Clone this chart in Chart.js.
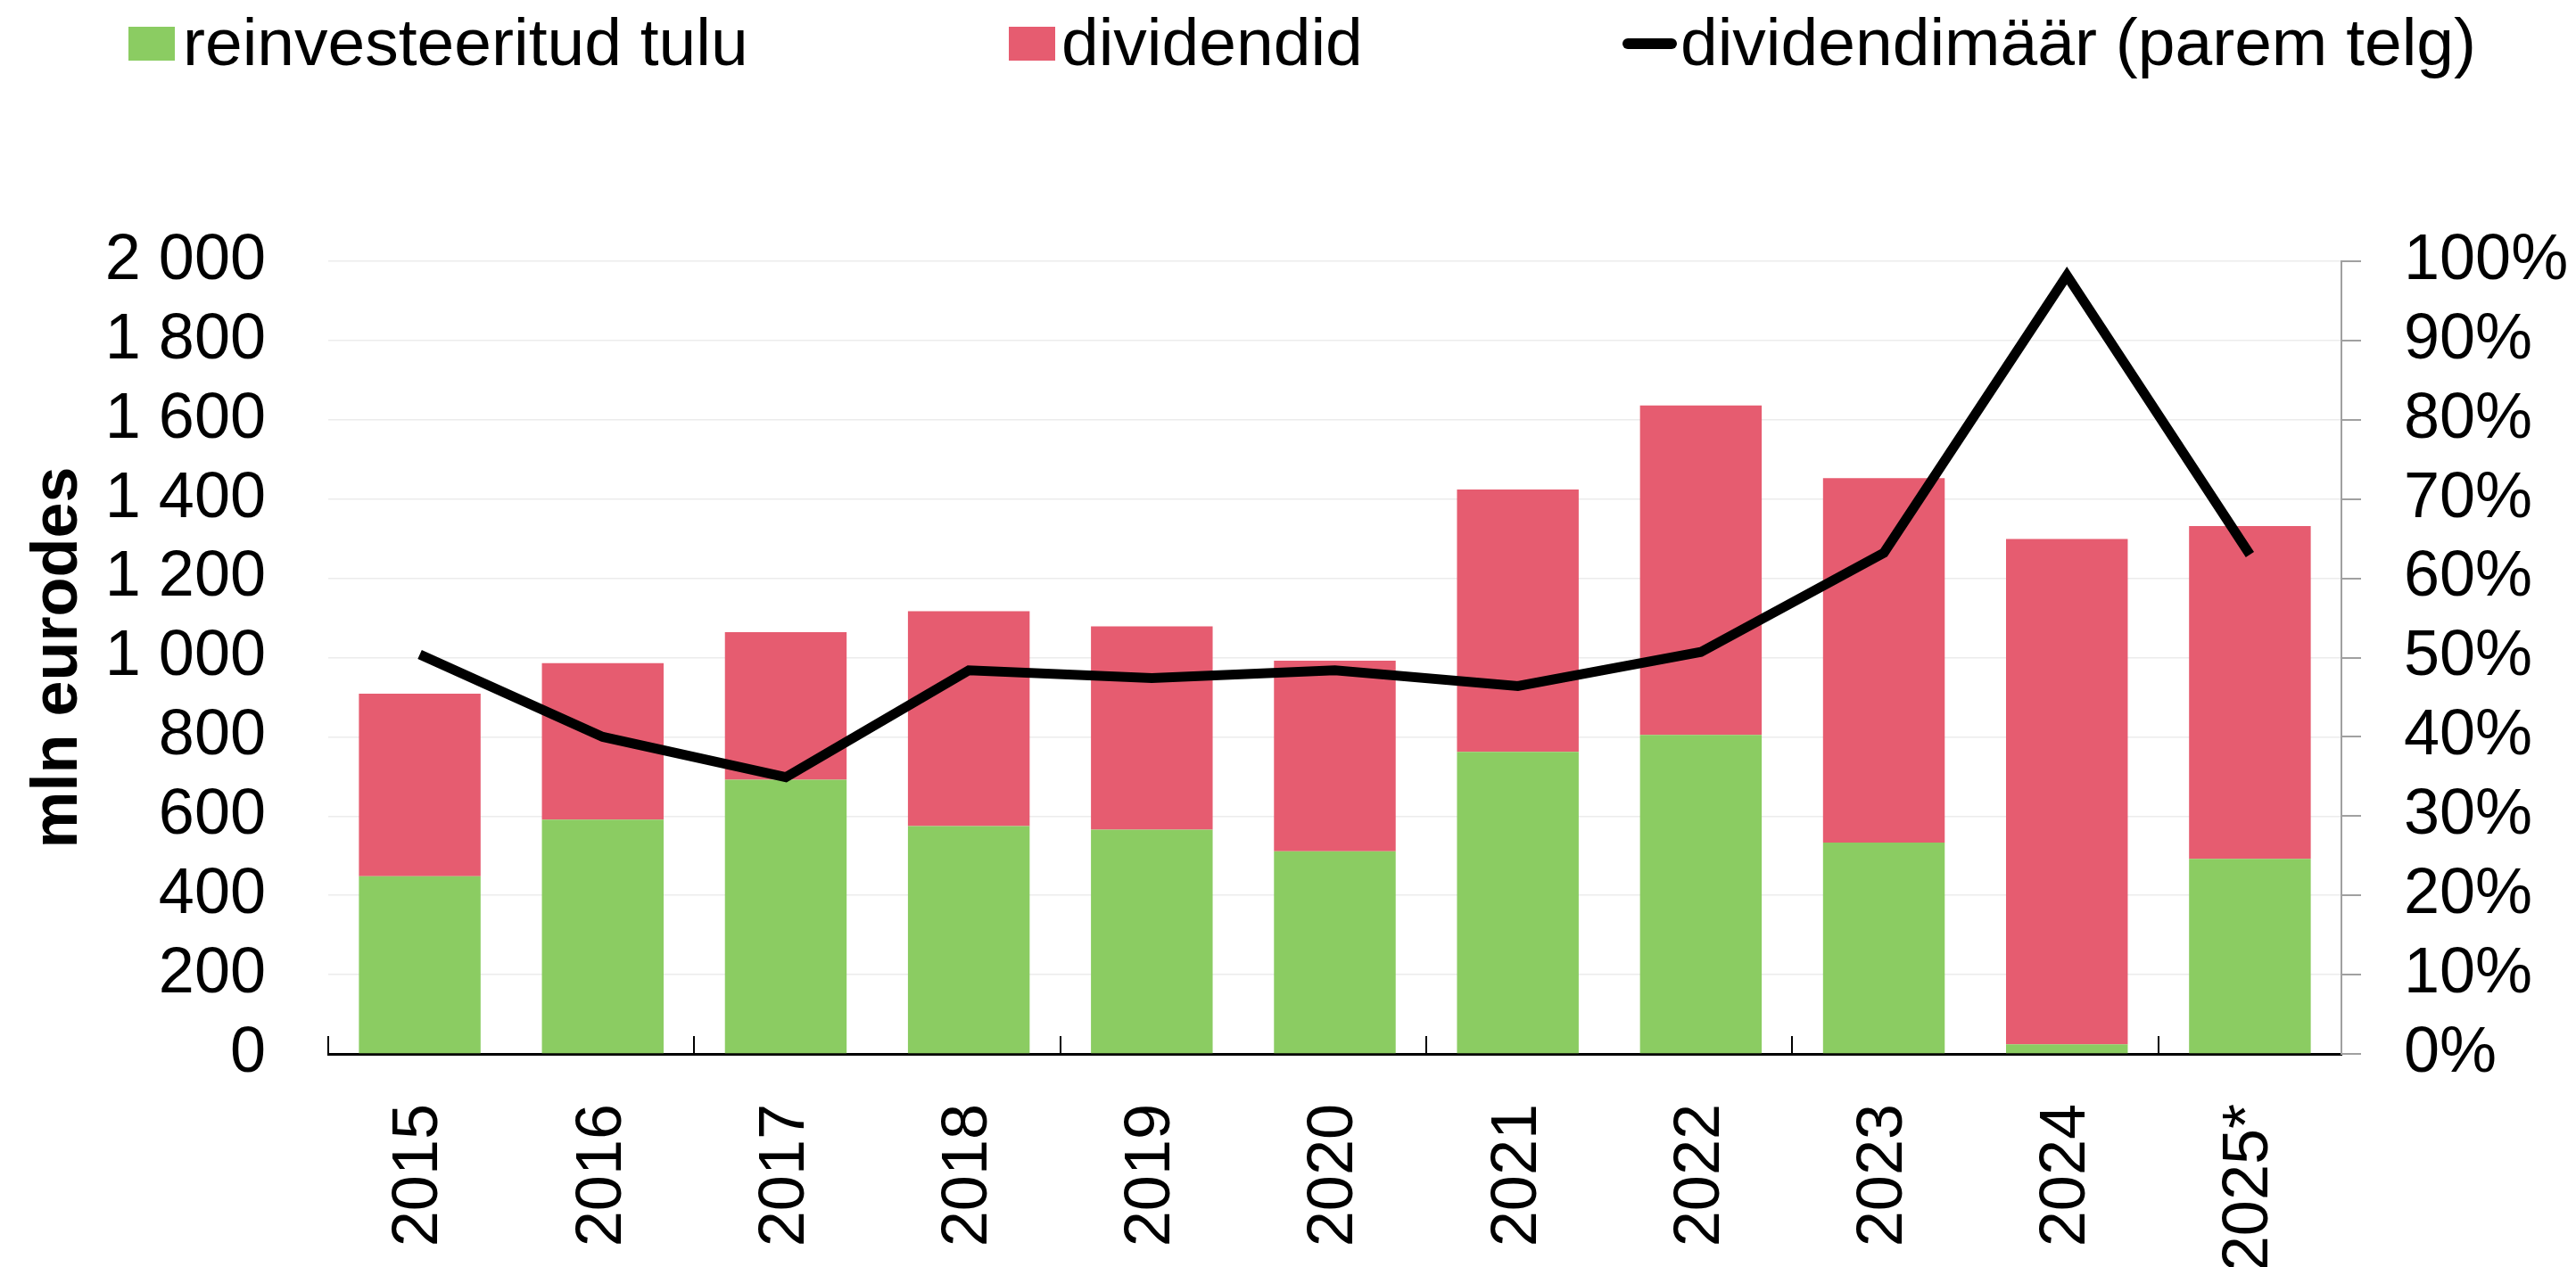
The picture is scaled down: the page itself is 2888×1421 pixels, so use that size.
<!DOCTYPE html>
<html lang="et">
<head>
<meta charset="utf-8">
<title>Reinvesteeritud tulu ja dividendid</title>
<script src="https://cdn.jsdelivr.net/npm/chart.js@4/dist/chart.umd.min.js"></script>
<style>
  html, body { margin: 0; padding: 0; background: #fff; }
  #wrap { position: relative; width: 2888px; height: 1421px; overflow: hidden; }
  #chart { position: absolute; left: 0; top: 0; }
  .legend-text {
    position: absolute; top: 10px; white-space: nowrap;
    font-family: "Liberation Sans", Arial, sans-serif; font-size: 75px; line-height: 1; color: #000;
  }
  .swatch { position: absolute; top: 30px; width: 52px; height: 38px; }
  .line-mark { position: absolute; top: 43px; width: 61px; height: 12px; border-radius: 6px; background: #000; }
</style>
</head>
<body>
<div id="wrap">
  <canvas id="chart" width="2888" height="1421"></canvas>
  <!-- legend -->
  <div class="swatch" style="left:144px; background:#8bcc62;"></div>
  <div class="legend-text" style="left:205px;">reinvesteeritud tulu</div>
  <div class="swatch" style="left:1131px; background:#e65c70;"></div>
  <div class="legend-text" style="left:1190px;">dividendid</div>
  <div class="line-mark" style="left:1819px;"></div>
  <div class="legend-text" style="left:1884px;">dividendimäär (parem telg)</div>
</div>
<script>
// Data
const years = ['2015', '2016', '2017', '2018', '2019', '2020', '2021', '2022', '2023', '2024', '2025*'];
const reinvestedIncome = [448, 591, 692, 575, 566, 511, 762, 805, 533, 24, 492];
const dividends = [461, 395, 372, 542, 513, 481, 662, 831, 920, 1275, 840];
const payoutRatio = [50.4, 40.0, 34.9, 48.4, 47.4, 48.4, 46.4, 50.7, 63.2, 98.2, 63.0];

const GREEN = '#8bcc62';
const RED = '#e65c70';
const FONT = '"Liberation Sans", Arial, sans-serif';

// space as thousands separator: 1 800
function formatThousands(v) {
  return String(v).replace(/\B(?=(\d{3})+(?!\d))/g, ' ');
}

const ctx = document.getElementById('chart').getContext('2d');

new Chart(ctx, {
  data: {
    labels: years,
    datasets: [
      {
        type: 'line',
        label: 'dividendimäär (parem telg)',
        data: payoutRatio,
        yAxisID: 'y1',
        borderColor: '#000',
        borderWidth: 11,
        borderJoinStyle: 'miter',
        pointRadius: 0,
        tension: 0,
        order: 0
      },
      {
        type: 'bar',
        label: 'reinvesteeritud tulu',
        data: reinvestedIncome,
        backgroundColor: GREEN,
        stack: 'a',
        yAxisID: 'y',
        order: 1
      },
      {
        type: 'bar',
        label: 'dividendid',
        data: dividends,
        backgroundColor: RED,
        stack: 'a',
        yAxisID: 'y',
        order: 1
      }
    ]
  },
  options: {
    responsive: false,
    animation: false,
    devicePixelRatio: 1,
    layout: { padding: { top: 293, left: 0, right: 0, bottom: 0 } },
    datasets: {
      bar: { categoryPercentage: 1, barPercentage: 0.665, borderWidth: 0 }
    },
    plugins: {
      legend: { display: false },
      tooltip: { enabled: false }
    },
    scales: {
      x: {
        stacked: true,
        offset: true,
        border: { color: '#000', width: 3 },
        grid: {
          offset: true,
          drawOnChartArea: false,
          tickLength: -20,
          lineWidth: 2,
          // tick marks only at every second category boundary
          color: (c) => (c.index !== undefined && c.index % 2 === 0) ? '#000' : 'rgba(0,0,0,0)'
        },
        ticks: {
          color: '#000',
          font: { family: FONT, size: 72 },
          minRotation: 90,
          maxRotation: 90,
          autoSkip: false,
          padding: 76
        },
        afterFit: (scale) => { scale.height = 239; }
      },
      y: {
        position: 'left',
        stacked: true,
        min: 0,
        max: 2000,
        border: { display: false },
        grid: { color: '#ececec', lineWidth: 1.5, drawTicks: false },
        ticks: {
          stepSize: 200,
          autoSkip: false,
          color: '#000',
          padding: 70,
          font: { family: FONT, size: 72 },
          callback: (v) => formatThousands(v)
        },
        title: {
          display: true,
          text: 'mln eurodes',
          color: '#000',
          font: { family: FONT, size: 72, weight: 'bold' },
          padding: { top: 23, bottom: 0 }
        },
        afterFit: (scale) => { scale.width = 368; }
      },
      y1: {
        position: 'right',
        min: 0,
        max: 100,
        border: { color: '#a0a0a0', width: 2 },
        grid: { drawOnChartArea: false, color: '#a0a0a0', lineWidth: 2, tickLength: 22 },
        ticks: {
          stepSize: 10,
          autoSkip: false,
          color: '#000',
          padding: 48,
          font: { family: FONT, size: 72 },
          callback: (v) => v + '%'
        },
        afterFit: (scale) => { scale.width = 263; }
      }
    }
  }
});
</script>
</body>
</html>
